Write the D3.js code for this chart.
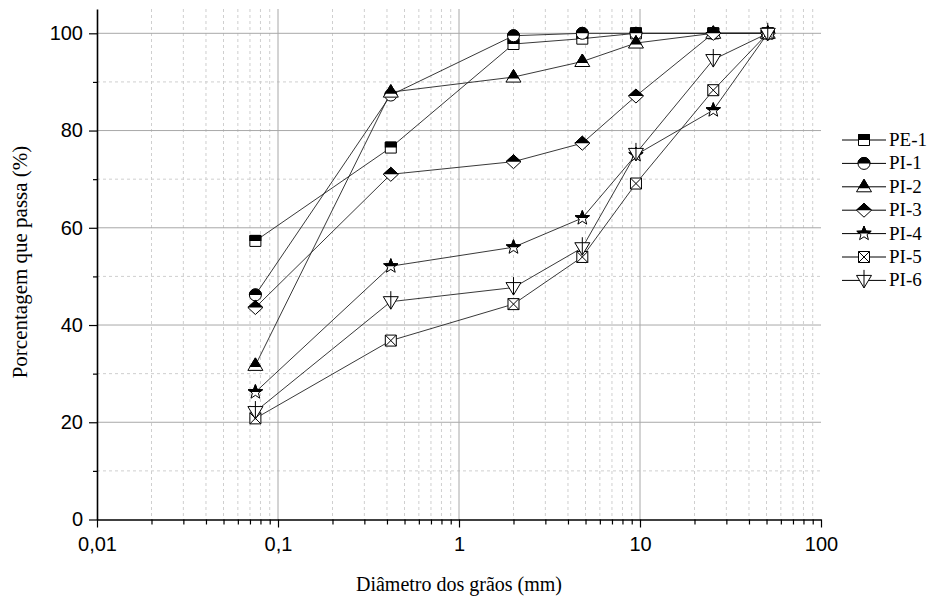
<!DOCTYPE html>
<html><head><meta charset="utf-8">
<script src="https://cdn.jsdelivr.net/npm/d3@7"></script>
<style>
html,body{margin:0;padding:0;background:#fff;}
svg{display:block;}
</style></head>
<body>
<svg id="chart" width="930" height="600"></svg>
<script>
// ---- data ----
const sieves = [0.075, 0.42, 2.0, 4.8, 9.5, 25.4, 50.8];
const seriesNames = ["PE-1", "PI-1", "PI-2", "PI-3", "PI-4", "PI-5", "PI-6"];
const pe1 = [57.3, 76.5, 97.8, 98.9, 100, 100, 100];
const pi1 = [46.2, 87.3, 99.5, 100, 100, 100, 100];
const pi2 = [31.7, 87.9, 91.0, 94.2, 98.0, 100, 100];
const pi3 = [43.6, 71.0, 73.6, 77.4, 87.1, 100, 100];
const pi4 = [26.2, 52.1, 56.0, 62.0, 75.0, 84.2, 100];
const pi5 = [20.8, 36.8, 44.3, 54.0, 69.1, 88.3, 100];
const pi6 = [22.2, 44.8, 47.7, 55.9, 75.3, 94.6, 100];
const xTickVals = [0.01, 0.1, 1, 10, 100];
const xTickLabels = ["0,01", "0,1", "1", "10", "100"];
const yTickVals = [0, 20, 40, 60, 80, 100];
const yMinorVals = [10, 30, 50, 70, 90];
const xTitle = "Diâmetro dos grãos (mm)";
const yTitle = "Porcentagem que passa (%)";

const seriesValues = [pe1, pi1, pi2, pi3, pi4, pi5, pi6];
const shapes = ["square", "circle", "triUp", "diamond", "star", "squareX", "triDown"];

// ---- layout ----
const L = 97, R = 821, T = 9, B = 519.5;
const svg = d3.select("#chart");
const x = d3.scaleLog().domain([0.01, 100]).range([L, R]);
const y = d3.scaleLinear().domain([0, 105]).range([B, T]);

const xMinor = [];
[0.01, 0.1, 1, 10].forEach(d => { for (let k = 2; k <= 9; k++) xMinor.push(d * k); });

// grid
const grid = svg.append("g");
grid.selectAll(".xm").data(xMinor).enter().append("line")
  .attr("x1", d => x(d)).attr("x2", d => x(d)).attr("y1", T).attr("y2", B)
  .attr("stroke", "#cfcfcf").attr("stroke-width", 1).attr("stroke-dasharray", "3,3");
grid.selectAll(".ym").data(yMinorVals).enter().append("line")
  .attr("x1", L).attr("x2", R).attr("y1", d => y(d)).attr("y2", d => y(d))
  .attr("stroke", "#cfcfcf").attr("stroke-width", 1).attr("stroke-dasharray", "3,3");
grid.selectAll(".xM").data(xTickVals.slice(1, 4)).enter().append("line")
  .attr("x1", d => x(d)).attr("x2", d => x(d)).attr("y1", T).attr("y2", B)
  .attr("stroke", "#a8a8a8").attr("stroke-width", 1);
grid.selectAll(".yM").data(yTickVals.slice(1)).enter().append("line")
  .attr("x1", L).attr("x2", R).attr("y1", d => y(d)).attr("y2", d => y(d))
  .attr("stroke", "#a8a8a8").attr("stroke-width", 1);

// axes
const xAxis = d3.axisBottom(x).tickValues(xTickVals)
  .tickFormat((d, i) => xTickLabels[i]).tickSize(8).tickSizeOuter(0).tickPadding(6);
const gx = svg.append("g").attr("transform", `translate(0,${B})`).call(xAxis);
const xAxisMinor = d3.axisBottom(x).tickValues(xMinor).tickFormat("").tickSize(5).tickSizeOuter(0);
svg.append("g").attr("transform", `translate(0,${B})`).call(xAxisMinor).select(".domain").remove();

const yAxis = d3.axisLeft(y).tickValues(yTickVals).tickSize(8).tickSizeOuter(0).tickPadding(6);
const gy = svg.append("g").attr("transform", `translate(${L},0)`).call(yAxis);
const yAxisMinor = d3.axisLeft(y).tickValues(yMinorVals).tickFormat("").tickSize(4).tickSizeOuter(0);
svg.append("g").attr("transform", `translate(${L},0)`).call(yAxisMinor).select(".domain").remove();

svg.selectAll(".domain").attr("stroke", "#000").attr("stroke-width", 1.6);
svg.selectAll(".tick line").attr("stroke", "#000").attr("stroke-width", 1.2);
svg.selectAll(".tick text").attr("font-family", "Liberation Sans, Arial, sans-serif")
  .attr("font-size", 20).attr("fill", "#000");
gx.selectAll(".tick text").attr("dy", "0.85em");

// titles
svg.append("text").attr("x", (L + R) / 2).attr("y", 591).attr("text-anchor", "middle")
  .attr("font-family", "Liberation Serif, Times New Roman, serif").attr("font-size", 20)
  .text(xTitle);
svg.append("text").attr("transform", `translate(27,262) rotate(-90)`)
  .attr("text-anchor", "middle")
  .attr("font-family", "Liberation Serif, Times New Roman, serif").attr("font-size", 21)
  .text(yTitle);

// clip paths for half-filled markers
const defs = svg.append("defs");
defs.append("clipPath").attr("id", "topHalf").append("rect")
  .attr("x", -20).attr("y", -20).attr("width", 40).attr("height", 20);
defs.append("clipPath").attr("id", "topTri").append("rect")
  .attr("x", -20).attr("y", -20).attr("width", 40).attr("height", 21.5);

function starPath(ro, ri) {
  let p = "";
  for (let i = 0; i < 10; i++) {
    const r = i % 2 === 0 ? ro : ri;
    const a = -Math.PI / 2 + i * Math.PI / 5;
    p += (i === 0 ? "M" : "L") + (r * Math.cos(a)).toFixed(2) + "," + (r * Math.sin(a)).toFixed(2);
  }
  return p + "Z";
}
const shapePaths = {
  square: "M-5.5,-5.5H5.5V5.5H-5.5Z",
  circle: "M-6,0A6,6 0 1,1 6,0A6,6 0 1,1 -6,0Z",
  triUp: "M0,-7.5L7.5,5L-7.5,5Z",
  diamond: "M0,-7L7.5,0L0,7L-7.5,0Z",
  star: starPath(7.5, 3.2),
  squareX: "M-5.5,-5.5H5.5V5.5H-5.5Z",
  triDown: "M-7.5,-5L7.5,-5L0,7.5Z"
};

function drawMarker(g, shape) {
  g.append("path").attr("d", shapePaths[shape]).attr("fill", "#fff")
    .attr("stroke", "#000").attr("stroke-width", 1);
  if (shape === "squareX") {
    g.append("path").attr("d", "M-5.5,-5.5L5.5,5.5M5.5,-5.5L-5.5,5.5")
      .attr("stroke", "#000").attr("stroke-width", 1);
  } else if (shape === "triDown") {
    g.append("path").attr("d", "M0,-10.5V7.5")
      .attr("stroke", "#000").attr("stroke-width", 1);
  } else {
    g.append("path").attr("d", shapePaths[shape]).attr("fill", "#000")
      .attr("stroke", "#000").attr("stroke-width", 1)
      .attr("clip-path", shape === "triUp" ? "url(#topTri)" : "url(#topHalf)");
  }
}

const line = d3.line().x(d => x(d[0])).y(d => y(d[1]));
const plot = svg.append("g");
seriesValues.forEach((vals, si) => {
  const pts = sieves.map((s, i) => [s, vals[i]]);
  plot.append("path").datum(pts).attr("d", line).attr("fill", "none")
    .attr("stroke", "#222").attr("stroke-width", 0.9);
});
seriesValues.forEach((vals, si) => {
  sieves.forEach((s, i) => {
    const g = plot.append("g").attr("transform", `translate(${x(s)},${y(vals[i])})`);
    drawMarker(g, shapes[si]);
  });
});

// legend
const leg = svg.append("g");
seriesNames.forEach((name, i) => {
  const ly = 140 + i * 23.4;
  leg.append("line").attr("x1", 842).attr("x2", 886).attr("y1", ly).attr("y2", ly)
    .attr("stroke", "#000").attr("stroke-width", 1);
  const g = leg.append("g").attr("transform", `translate(864,${ly})`);
  drawMarker(g, shapes[i]);
  leg.append("text").attr("x", 889).attr("y", ly + 6)
    .attr("font-family", "Liberation Serif, Times New Roman, serif").attr("font-size", 19)
    .text(name);
});
</script>
</body></html>
